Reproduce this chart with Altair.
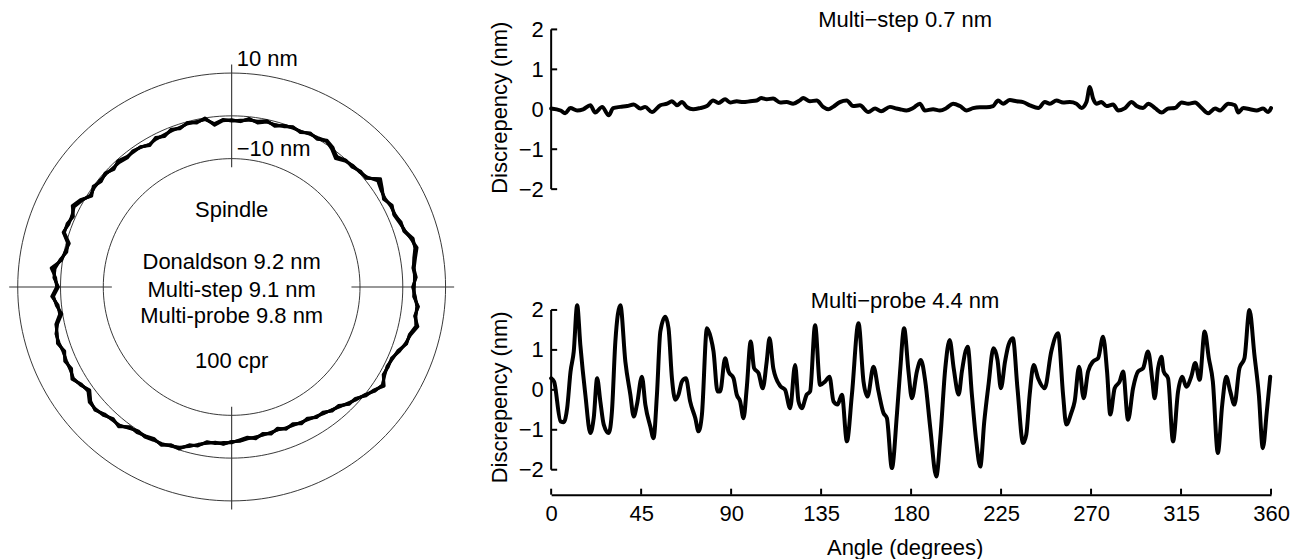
import altair as alt
import numpy as np
import pandas as pd

FONT = "Liberation Sans"
FS = 22
INK = "#000000"

# ---------------- polar panel (spindle error, nm) ----------------
polar_angles = list(range(0, 360, 3))
donaldson = [
    2.5, 3.0, 2.6, 3.3, 3.9, 3.6, 2.3, 2.4, 1.6, 1.9, 1.2, 1.8,
    2.7, 0.6, 0.3, 0.0, -0.2, -0.8, 0.1, 0.6, 0.1, 0.3, -0.3, 0.0,
    -0.4, -0.9, -0.4, -1.0, -0.6, -1.2, -1.1, -0.9, -1.8, -0.2, -0.6, -0.3,
    -0.9, -0.7, -1.3, -1.0, -1.6, -1.0, -0.8, -1.1, -0.5, -0.9, -0.4, -0.6,
    -0.2, -0.8, 0.6, 1.5, 0.7, 1.0, 1.3, -0.5, -0.4, 0.4, 1.8, 1.4,
    0.7, 1.9, 1.0, 0.5, 1.8, 2.4, 2.6, 2.0, 2.5, 2.2, 2.9, 2.0,
    1.2, 2.6, 2.9, 2.2, 1.6, 1.8, 0.6, 0.3, 0.4, 0.0, 0.3, -0.3,
    -0.4, -1.6, -2.2, -3.2, -3.4, -3.3, -3.8, -4.0, -4.5, -4.3, -4.8, -4.6,
    -5.0, -4.6, -4.8, -4.3, -4.4, -3.8, -3.6, -2.9, -2.5, -1.4, -0.9, 0.2,
    1.2, 2.2, 1.1, 0.9, 1.1, 1.8, 2.9, 3.1, 4.2, 3.5, 3.7, 2.8,
]
multistep = [
    2.3, 3.2, 2.8, 3.1, 3.8, 3.9, 2.5, 2.2, 1.8, 1.7, 1.4, 1.6,
    2.2, 0.8, 0.2, 0.1, -0.4, -1.4, -0.2, 0.7, 0.3, 0.1, -0.2, -0.2,
    -0.3, -1.1, -0.3, -0.8, -0.8, -1.0, -1.2, -0.8, -1.6, -0.4, -0.5, -0.5,
    -0.8, -0.9, -1.1, -1.2, -1.5, -1.1, -0.7, -1.2, -0.8, -0.7, -0.5, -0.4,
    -0.4, -0.6, 0.4, 1.3, 0.9, 0.8, 1.4, -0.3, -0.6, 0.6, 1.5, 1.6,
    0.5, 1.7, 1.2, 0.2, 1.6, 2.5, 2.4, 2.2, 2.3, 2.4, 2.7, 2.1,
    1.0, 2.4, 3.0, 2.0, 1.8, 1.6, 0.8, 0.1, 0.5, 0.2, 0.1, -0.2,
    -0.6, -1.4, -2.4, -3.0, -3.5, -3.2, -3.9, -3.9, -4.3, -4.5, -4.6, -4.8,
    -4.9, -4.7, -4.6, -4.5, -4.2, -3.9, -3.4, -3.0, -2.3, -1.6, -0.7, 0.0,
    1.4, 2.0, 1.3, 0.8, 1.2, 1.6, 3.0, 3.0, 4.0, 3.6, 3.5, 3.0,
]
multiprobe = [
    2.7, 2.8, 2.9, 3.5, 4.3, 3.4, 2.6, 2.0, 1.5, 2.1, 1.0, 2.0,
    3.0, 0.4, 0.5, -0.3, -0.1, -1.1, 0.3, 0.9, -0.1, 0.4, -0.5, 0.1,
    -0.6, -0.7, -0.6, -1.2, -0.4, -1.3, -0.9, -1.1, -2.0, 0.0, -0.8, -0.2,
    -1.1, -0.5, -1.5, -0.8, -1.8, -0.9, -1.0, -0.9, -0.3, -1.1, -0.2, -0.8,
    0.0, -1.0, 0.8, 1.8, 0.5, 1.2, 1.1, -0.7, -0.2, 0.2, 2.4, 1.2,
    0.9, 2.1, 0.8, 0.7, 2.0, 2.2, 2.8, 1.8, 2.7, 2.0, 3.1, 1.8,
    1.5, 2.8, 2.7, 2.4, 1.4, 2.0, 0.4, 0.6, 0.2, -0.2, 0.5, -0.5,
    -0.2, -1.8, -2.0, -3.4, -3.2, -3.6, -3.6, -4.2, -4.7, -4.1, -5.0, -4.4,
    -5.3, -4.4, -5.0, -4.1, -4.6, -3.6, -3.8, -2.7, -2.7, -1.2, -1.1, 0.4,
    1.0, 2.5, 0.9, 1.1, 0.9, 2.0, 2.7, 3.3, 4.5, 3.3, 3.9, 2.6,
]
zero_radius = 40.0          # radius of the zero-error circle, in nm units
ring_offsets = [-10, 0, 10]  # reference circles at -10, 0, +10 nm
cross_inner = 28.0
cross_outer = 52.0

scale_labels = ["10 nm", "\u221210 nm"]
scale_labels_x = [1.2, 1.2]
scale_labels_y = [53.2, 32.3]
center_labels = ["Spindle", "Donaldson 9.2 nm", "Multi-step 9.1 nm",
                 "Multi-probe 9.8 nm", "100 cpr"]
center_labels_y = [17.9, 5.9, -0.7, -6.9, -17.4]

# ---------------- right panels (discrepancy, nm) ----------------
step_angles = [
    0, 4.7, 7.0, 9.6, 13.0, 16.0, 19.6, 22.0, 25.5, 28.8, 31.0, 34.6, 38.0, 41.3,
    44.6, 47.0, 50.4, 54.6, 58.0, 60.4, 63.0, 65.4, 68.0, 71.0, 74.5, 77.9, 81.0,
    83.7, 87.0, 89.5, 92.8, 96.0, 99.5, 102.8, 105.0, 107.8, 111.0, 114.5, 117.8,
    121.0, 124.5, 126.0, 129.4, 132.8, 136.0, 138.6, 141.0, 144.4, 147.8, 151.0,
    154.4, 158.6, 162.0, 165.0, 169.4, 172.7, 174.4, 177.7, 181.0, 184.4, 186.9,
    191.0, 194.4, 197.7, 201.0, 204.4, 207.7, 211.0, 214.4, 217.7, 221.0, 223.5,
    226.0, 229.4, 232.7, 236.0, 239.4, 243.6, 246.9, 249.4, 252.7, 256.0, 259.4,
    262.7, 265.2, 267.7, 269.4, 271.0, 272.7, 275.2, 277.7, 281.0, 283.6, 287.0,
    290.3, 292.8, 296.0, 298.6, 302.0, 305.3, 308.6, 312.0, 315.3, 318.6, 322.0,
    325.3, 328.6, 332.0, 334.5, 338.6, 342.0, 343.6, 346.1, 349.5, 352.8, 356.0,
    358.6, 360.0,
]
step_values = [
    0.02, -0.03, -0.10, 0.03, -0.03, 0.0, 0.10, -0.08, 0.06, -0.15, 0.03, 0.06,
    0.08, 0.12, 0.02, 0.06, -0.07, 0.10, 0.14, 0.20, 0.10, 0.18, 0.05, 0.0, 0.03,
    0.08, 0.22, 0.16, 0.25, 0.17, 0.20, 0.18, 0.20, 0.22, 0.28, 0.25, 0.27, 0.17,
    0.18, 0.14, 0.23, 0.28, 0.20, 0.22, 0.06, 0.0, 0.06, 0.18, 0.22, 0.08, 0.10,
    -0.07, 0.02, -0.05, 0.06, 0.02, 0.0, -0.03, 0.03, 0.14, -0.03, 0.0, -0.03,
    0.03, 0.14, 0.08, -0.03, 0.03, 0.05, 0.05, 0.08, 0.22, 0.14, 0.23, 0.20, 0.18,
    0.10, 0.03, 0.18, 0.14, 0.22, 0.17, 0.18, 0.14, 0.03, 0.18, 0.56, 0.27, 0.14,
    0.18, 0.08, 0.12, -0.03, 0.03, 0.18, 0.08, 0.03, 0.14, 0.03, -0.08, 0.02, 0.03,
    0.17, 0.14, 0.17, 0.03, -0.10, 0.02, -0.03, 0.14, 0.10, -0.08, 0.03, 0.0,
    -0.03, 0.02, -0.07, 0.03,
]
probe_angles = [
    0.0, 1.5, 4.7, 6.3, 8.0, 9.7, 11.3, 13.0, 14.6, 17.1,
    19.6, 21.3, 23.0, 24.6, 26.3, 28.8, 30.4, 32.1, 34.6, 37.1,
    39.6, 41.3, 42.9, 45.4, 47.1, 49.6, 51.2, 52.9, 54.6, 57.1,
    58.7, 60.4, 62.1, 63.7, 65.4, 67.4, 69.5, 72.1, 73.7, 75.4,
    77.9, 79.9, 81.2, 83.2, 84.5, 87.0, 88.7, 91.2, 92.8, 94.5,
    96.2, 97.8, 99.8, 101.5, 103.7, 105.8, 107.8, 109.2, 111.1, 114.5,
    117.0, 119.5, 122.0, 123.7, 125.3, 127.8, 129.5, 132.0, 134.5, 137.0,
    139.2, 141.2, 143.2, 145.4, 147.9, 150.4, 153.7, 156.2, 158.2, 161.2,
    163.7, 166.2, 167.9, 170.4, 172.9, 174.5, 176.5, 178.7, 180.4, 182.9,
    184.9, 187.1, 189.6, 192.6, 194.6, 197.1, 199.3, 201.3, 203.8, 205.4,
    208.3, 210.4, 212.6, 214.6, 216.6, 218.7, 221.2, 223.2, 224.9, 227.0,
    228.7, 230.9, 233.2, 236.0, 237.6, 239.3, 241.3, 243.5, 246.8, 250.1,
    253.5, 256.0, 257.6, 260.1, 261.8, 264.0, 266.3, 268.5, 271.0, 273.5,
    276.0, 278.0, 279.6, 281.8, 284.3, 286.0, 288.5, 291.0, 293.5, 296.0,
    298.5, 300.7, 301.8, 303.5, 305.2, 306.3, 308.5, 311.0, 313.5, 315.6,
    317.6, 320.1, 322.1, 324.3, 326.8, 328.9, 330.9, 333.4, 335.6, 337.6,
    339.6, 341.7, 344.2, 346.7, 349.2, 351.7, 353.9, 355.9, 357.9, 359.6,
]
probe_values = [
    0.29, 0.20, -0.79, -0.81, -0.46, 0.46, 0.96, 2.12, 1.12, -0.12,
    -1.08, -0.70, 0.29, -0.29, -0.87, -1.08, -0.54, 1.20, 2.12, 0.71,
    -0.12, -0.67, -0.37, 0.33, -0.37, -0.92, -1.21, -0.12, 1.46, 1.83,
    1.54, 0.29, -0.25, -0.12, 0.21, 0.29, -0.29, -0.71, -1.04, -0.62,
    1.54, 1.29, 0.96, -0.04, -0.04, 0.79, 0.46, 0.29, -0.12, -0.29,
    -0.71, 0.04, 1.21, 0.54, 0.42, 0.04, 0.71, 1.29, 0.54, 0.10,
    0.00, -0.46, 0.62, -0.29, -0.46, -0.12, -0.04, 1.62, 0.12, 0.21,
    0.33, -0.29, -0.37, -0.12, -1.29, -0.12, 1.67, 0.21, -0.17, 0.58,
    -0.04, -0.58, -0.71, -1.96, -0.62, 0.46, 1.54, 0.46, -0.21, 0.46,
    0.75, 0.21, -0.96, -2.17, -1.21, 0.54, 1.25, 0.54, -0.12, 0.46,
    1.08, -0.12, -1.29, -1.92, -0.79, 0.12, 1.04, 0.75, 0.04, 0.71,
    1.12, 1.29, 0.04, -1.33, -1.12, -0.12, 0.62, 0.29, 0.04, 0.96,
    1.42, -0.12, -0.87, -0.58, -0.29, 0.58, -0.21, 0.46, 0.71, 0.79,
    1.33, 0.46, -0.62, 0.04, 0.21, 0.46, -0.75, 0.04, 0.46, 0.54,
    0.96, 0.21, -0.21, 0.54, 0.83, 0.46, 0.29, -1.29, -0.04, 0.33,
    0.08, 0.33, 0.67, 0.25, 1.46, 0.79, 0.21, -1.58, -0.37, 0.33,
    -0.04, -0.37, 0.54, 0.79, 2.00, 0.87, -0.12, -1.46, -0.54, 0.33,
]
angle_ticks = [0, 45, 90, 135, 180, 225, 270, 315, 360]
nm_ticks = [-2, -1, 0, 1, 2]
top_title = "Multi\u2212step 0.7 nm"
bottom_title = "Multi\u2212probe 4.4 nm"

# ================= build polar panel =================
polar_df = pd.concat([
    pd.DataFrame({"method": name, "theta": polar_angles, "err": vals})
    for name, vals in [("Donaldson", donaldson), ("Multi-step", multistep),
                       ("Multi-probe", multiprobe)]
], ignore_index=True)

ring_theta = np.arange(0, 360, 2)
ring_df = pd.concat([
    pd.DataFrame({"ring": off, "theta": ring_theta, "err": float(off)})
    for off in ring_offsets
], ignore_index=True)

cross_df = pd.DataFrame({
    "x": [-cross_outer, cross_inner, 0.0, 0.0],
    "x2": [-cross_inner, cross_outer, 0.0, 0.0],
    "y": [0.0, 0.0, cross_inner, -cross_outer],
    "y2": [0.0, 0.0, cross_outer, -cross_inner],
})

xs_p = alt.Scale(domain=[-52.04, 52.04], nice=False, zero=False)
ys_p = alt.Scale(domain=[-56.71, 64.64], nice=False, zero=False)

to_x = f"({zero_radius} + datum.err) * cos(datum.theta * PI / 180)"
to_y = f"({zero_radius} + datum.err) * sin(datum.theta * PI / 180)"

rings = alt.Chart(ring_df).transform_calculate(px=to_x, py=to_y).mark_line(
    color="#222222", strokeWidth=0.9, interpolate="linear-closed"
).encode(
    x=alt.X("px:Q", scale=xs_p, axis=None),
    y=alt.Y("py:Q", scale=ys_p, axis=None),
    detail="ring:N",
    order="theta:Q",
)

cross = alt.Chart(cross_df).mark_rule(color="#333333", strokeWidth=1.1).encode(
    x=alt.X("x:Q", scale=xs_p, axis=None),
    x2="x2:Q",
    y=alt.Y("y:Q", scale=ys_p, axis=None),
    y2="y2:Q",
)

traces = alt.Chart(polar_df).transform_calculate(px=to_x, py=to_y).mark_line(
    color=INK, strokeWidth=3.0, interpolate="linear-closed", strokeJoin="round"
).encode(
    x=alt.X("px:Q", scale=xs_p, axis=None),
    y=alt.Y("py:Q", scale=ys_p, axis=None),
    detail="method:N",
    order="theta:Q",
)

scale_text = alt.Chart(pd.DataFrame({
    "label": scale_labels, "x": scale_labels_x, "y": scale_labels_y
})).mark_text(align="left", baseline="middle", font=FONT, fontSize=FS, color=INK).encode(
    x=alt.X("x:Q", scale=xs_p, axis=None),
    y=alt.Y("y:Q", scale=ys_p, axis=None),
    text="label:N",
)

center_text = alt.Chart(pd.DataFrame({
    "label": center_labels, "x": 0.0, "y": center_labels_y
})).mark_text(align="center", baseline="middle", font=FONT, fontSize=FS, color=INK).encode(
    x=alt.X("x:Q", scale=xs_p, axis=None),
    y=alt.Y("y:Q", scale=ys_p, axis=None),
    text="label:N",
)

polar = alt.layer(rings, cross, traces, scale_text, center_text).properties(
    width=446, height=520
)

# ================= build right panels =================
x_r = alt.Scale(domain=[0, 360], nice=False, zero=False)
y_top = alt.Scale(domain=[-2, 2.475], nice=False, zero=False)
y_bot = alt.Scale(domain=[-2.625, 2.5], nice=False, zero=False)


def y_axis(title_y):
    return alt.Axis(
        values=nm_ticks, format="d", domain=False, ticks=False, tickSize=0,
        grid=False, labelFont=FONT, labelFontSize=FS, labelColor=INK,
        labelPadding=8, title="Discrepency (nm)", titleFont=FONT,
        titleFontSize=FS, titleFontWeight="normal", titleColor=INK,
        titleX=-52, titleY=title_y, titleBaseline="middle",
    )


x_axis = alt.Axis(
    values=angle_ticks, format="d", domain=True, domainColor=INK, domainWidth=2,
    ticks=False, tickSize=0, grid=False, labelFlush=False, labelOverlap=False,
    labelFont=FONT, labelFontSize=FS, labelColor=INK, labelPadding=9,
    title="Angle (degrees)", titleFont=FONT, titleFontSize=FS,
    titleFontWeight="normal", titleColor=INK, titlePadding=13, titleX=354,
)


def panel(df, yscale, yaxis, xaxis, title, with_xticks):
    def X(field):
        return alt.X(field, type="quantitative", scale=x_r, axis=xaxis)

    def Y(field):
        return alt.Y(field, type="quantitative", scale=yscale, axis=yaxis)

    line = alt.Chart(df).mark_line(
        color=INK, strokeWidth=4, interpolate="monotone",
        strokeJoin="round", strokeCap="round"
    ).encode(x=X("angle"), y=Y("value"))
    yline = alt.Chart(pd.DataFrame({"x": [0.0], "y": [nm_ticks[0]], "y2": [nm_ticks[-1]]})).mark_rule(
        color=INK, strokeWidth=2
    ).encode(x=X("x"), y=Y("y"), y2="y2:Q")
    yticks = alt.Chart(pd.DataFrame({"y": nm_ticks, "x": 0.0, "x2": 3.0})).mark_rule(
        color=INK, strokeWidth=2
    ).encode(x=X("x"), x2="x2:Q", y=Y("y"))
    ttl = alt.Chart(pd.DataFrame({"label": [title], "x": [177.0], "y": [2.05]})).mark_text(
        align="center", baseline="alphabetic", font=FONT, fontSize=FS, color=INK
    ).encode(x=X("x"), y=Y("y"), text="label:N")
    layers = [yline, yticks, line, ttl]
    if with_xticks:
        lo = yscale.domain[0]
        xticks = alt.Chart(pd.DataFrame({"x": angle_ticks, "y": lo, "y2": lo + 0.15})).mark_rule(
            color=INK, strokeWidth=2
        ).encode(x=X("x"), y=Y("y"), y2="y2:Q")
        layers.append(xticks)
    return alt.layer(*layers)


step_df = pd.DataFrame({"angle": step_angles, "value": step_values})
probe_df = pd.DataFrame({"angle": probe_angles, "value": probe_values})

top = panel(step_df, y_top, y_axis(97), None, top_title, False).properties(width=721, height=179)
bottom = panel(probe_df, y_bot, y_axis(107), x_axis, bottom_title, True).properties(width=721, height=205)

right = alt.vconcat(top, bottom, spacing=101, bounds="flush")

chart = alt.hconcat(polar, right, spacing=97, bounds="flush", padding=0).configure(
    font=FONT, background="white"
).configure_view(stroke="transparent", strokeWidth=0)

chart.save("out.html", embed_options={"renderer": "svg", "actions": False})
